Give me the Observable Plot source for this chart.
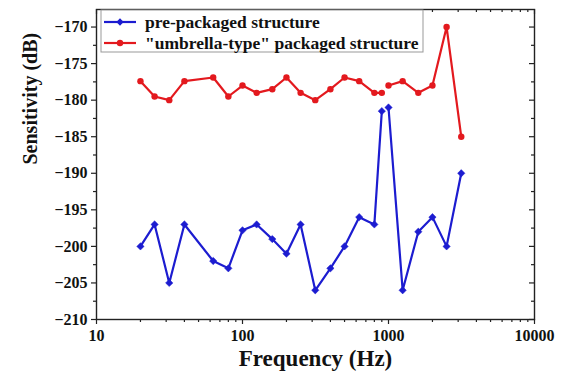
<!DOCTYPE html>
<html>
<head>
<meta charset="utf-8">
<script src="https://cdn.jsdelivr.net/npm/d3@7"></script>
<script src="https://cdn.jsdelivr.net/npm/@observablehq/plot@0.6"></script>
<style>
  html, body { margin: 0; padding: 0; background: #fff; }
  #chart { width: 565px; height: 383px; }
  #chart svg, #chart svg text { font-family: 'Liberation Serif', 'Times New Roman', serif !important; }
</style>
</head>
<body>
<div id="chart"></div>
<script>
// ---- data ----
const frequency = [20, 25, 31.5, 40, 63, 80, 100, 125, 160, 200, 250, 315, 400, 500, 630, 800, 900, 1000, 1250, 1600, 2000, 2500, 3150];
const prePackaged = [-200, -197, -205, -197, -202, -203, -197.8, -197, -199, -201, -197, -206, -203, -200, -196, -197, -181.5, -181, -206, -198, -196, -200, -190];
const umbrellaType = [-177.4, -179.5, -180, -177.4, -176.9, -179.5, -178, -179, -178.5, -176.9, -179, -180, -178.5, -176.9, -177.4, -179, -179, -178, -177.4, -179, -178, -170, -185];
const seriesNames = ["pre-packaged structure", "\"umbrella-type\" packaged structure"];
const seriesColors = ["#1c1cd0", "#e3191e"];
const splitFrequency = 1000; // measured in two runs: the line breaks between 900 and 1000 Hz

const xMajorTicks = [10, 100, 1000, 10000];
const xMinorTicks = [20,30,40,50,60,70,80,90,200,300,400,500,600,700,800,900,2000,3000,4000,5000,6000,7000,8000,9000];
const yMajorTicks = [-210, -205, -200, -195, -190, -185, -180, -175, -170];
const yMinorTicks = [-207.5, -202.5, -197.5, -192.5, -187.5, -182.5, -177.5, -172.5];

// ---- table ----
const rows = [];
[prePackaged, umbrellaType].forEach((vals, si) => {
  vals.forEach((v, i) => rows.push({
    series: seriesNames[si],
    f: frequency[i],
    db: v,
    seg: seriesNames[si] + (frequency[i] < splitFrequency ? "-a" : "-b")
  }));
});
const blue = rows.filter(d => d.series === seriesNames[0]);
const red = rows.filter(d => d.series === seriesNames[1]);

const W = 565, H = 383, mL = 96, mR = 31, mT = 9, mB = 64;
const plotW = W - mL - mR, plotH = H - mT - mB;
const axisColor = "#222";

const svg = Plot.plot({
  width: W, height: H,
  marginLeft: mL, marginRight: mR, marginTop: mT, marginBottom: mB,
  style: { fontFamily: "'Liberation Serif', 'Times New Roman', serif", fontWeight: "bold", fontSize: "16px", background: "#fff", color: "#111" },
  x: { type: "log", domain: [10, 10000] },
  y: { domain: [-210, -167.6] },
  marks: [
    Plot.axisX(xMajorTicks, { tickSize: 5, tickPadding: 5, tickFormat: d => String(d), fontSize: 16, label: null, stroke: axisColor, strokeWidth: 1.2 }),
    Plot.axisX(xMinorTicks, { tickSize: 3, tickFormat: () => "", label: null, stroke: axisColor, strokeWidth: 1.2 }),
    Plot.axisY(yMajorTicks, { tickSize: 5, tickPadding: 4, fontSize: 16, label: null, stroke: axisColor, strokeWidth: 1.2 }),
    Plot.axisY(yMinorTicks, { tickSize: 3, tickFormat: () => "", label: null, stroke: axisColor, strokeWidth: 1.2 }),
    Plot.tickX(xMajorTicks, { x: d => d, insetBottom: plotH - 5, stroke: axisColor, strokeWidth: 1.2 }),
    Plot.tickX(xMinorTicks, { x: d => d, insetBottom: plotH - 3, stroke: axisColor, strokeWidth: 1.2 }),
    Plot.tickY(yMajorTicks, { y: d => d, insetLeft: plotW - 5, stroke: axisColor, strokeWidth: 1.2 }),
    Plot.tickY(yMinorTicks, { y: d => d, insetLeft: plotW - 3, stroke: axisColor, strokeWidth: 1.2 }),
    Plot.frame({ stroke: axisColor, strokeWidth: 1.4 }),
    Plot.text(["Sensitivity (dB)"], { frameAnchor: "left", dx: -66, rotate: -90, fontSize: 20, fontWeight: "bold", fill: "#111" }),
    Plot.text(["Frequency (Hz)"], { frameAnchor: "bottom", dy: 46, fontSize: 23, fontWeight: "bold", fill: "#111" }),
    Plot.line(blue, { x: "f", y: "db", z: "seg", stroke: seriesColors[0], strokeWidth: 2.2 }),
    Plot.dot(blue, { x: "f", y: "db", symbol: "diamond2", r: 3.3, fill: seriesColors[0], stroke: seriesColors[0], strokeWidth: 0.5 }),
    Plot.line(red, { x: "f", y: "db", z: "seg", stroke: seriesColors[1], strokeWidth: 2.2 }),
    Plot.dot(red, { x: "f", y: "db", r: 3.2, fill: seriesColors[1], stroke: "none" })
  ]
});

// ---- legend (inside the frame, top-left) ----
const lg = d3.select(svg).append("g")
  .attr("font-family", "'Liberation Serif', 'Times New Roman', serif")
  .attr("font-weight", "bold")
  .attr("text-anchor", "start");
lg.append("rect").attr("x", 101).attr("y", 10).attr("width", 322).attr("height", 42)
  .attr("fill", "#fff").attr("stroke", "#999").attr("stroke-width", 1);
const legendRows = [22, 43];
seriesNames.forEach((name, i) => {
  const y = legendRows[i];
  lg.append("line").attr("x1", 104).attr("x2", 136).attr("y1", y).attr("y2", y)
    .attr("stroke", seriesColors[i]).attr("stroke-width", 2.2);
  if (i === 0) {
    lg.append("path").attr("d", d3.symbol(d3.symbolDiamond2, 3.3 * 3.3 * Math.PI)())
      .attr("transform", `translate(120,${y})`).attr("fill", seriesColors[i]);
  } else {
    lg.append("circle").attr("cx", 120).attr("cy", y).attr("r", 3.2).attr("fill", seriesColors[i]);
  }
  lg.append("text").attr("x", 145).attr("y", y).attr("dy", "0.32em").attr("font-size", 17.5)
    .attr("text-anchor", "start").attr("fill", "#111").text(name);
});

document.getElementById("chart").appendChild(svg);
</script>
</body>
</html>
